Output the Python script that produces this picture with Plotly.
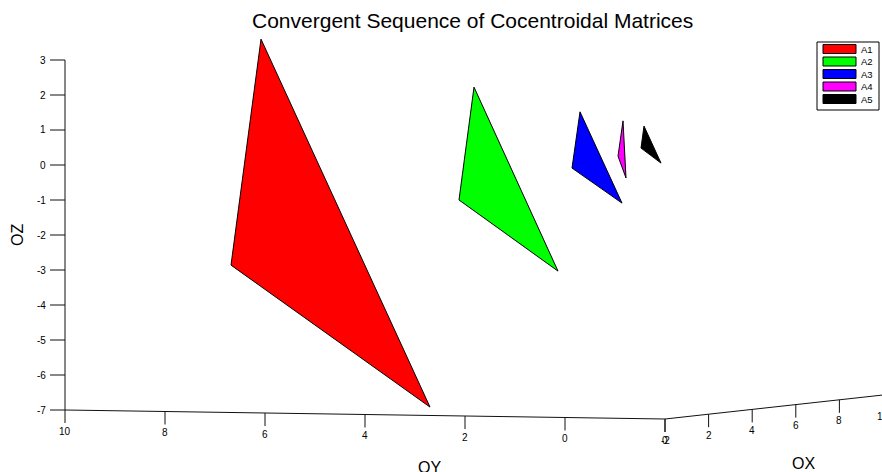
import plotly.graph_objects as go

# ---------------- data (3-D vertices of each matrix triangle) ----------------
MATRICES = ["A1", "A2", "A3", "A4", "A5"]
COLORS = ["#ff0000", "#00ff00", "#0000ff", "#ff00ff", "#000000"]

A1_X = [0, 0, 0]
A1_Y = [6.08, 6.68, 2.70]
A1_Z = [3.68, -2.79, -6.76]

A2_X = [0, 0, 0]
A2_Y = [1.82, 2.12, 0.14]
A2_Z = [2.40, -0.83, -2.82]

A3_X = [0, 0, 0]
A3_Y = [-0.30, -0.14, -1.14]
A3_Z = [1.74, 0.13, -0.85]

A4_X = [0, 0, 0]
A4_Y = [-1.16, -1.06, -1.22]
A4_Z = [1.50, 0.49, -0.13]

A5_X = [0, 0, 0]
A5_Y = [-1.58, -1.52, -1.92]
A5_Z = [1.36, 0.73, 0.31]

X_TICKS = [0, 2, 4, 6, 8, 10]
Y_TICKS = [10, 8, 6, 4, 2, 0, -2]
Z_TICKS = [-7, -6, -5, -4, -3, -2, -1, 0, 1, 2, 3]

TITLE = "Convergent Sequence of Cocentroidal Matrices"

# ---------------- fixed oblique view (projection onto the page) ----------------
W, H = 882, 472
X0, Y0, Z0 = 0, -2, -7          # axis corner
OU, OV = 665.0, 419.0           # page position of the corner
EX = (21.8, -2.4)               # page step per unit of X
EY = (-50.0, -0.75)             # page step per unit of Y
EZ = (0.0, -35.0)               # page step per unit of Z


def proj(x, y, z):
    u = OU + EX[0] * (x - X0) + EY[0] * (y - Y0) + EZ[0] * (z - Z0)
    v = OV + EX[1] * (x - X0) + EY[1] * (y - Y0) + EZ[1] * (z - Z0)
    return u, v


def proj_many(xs, ys, zs):
    pts = [proj(x, y, z) for x, y, z in zip(xs, ys, zs)]
    return [p[0] for p in pts], [p[1] for p in pts]


def px(u):
    return u / W


def py(v):
    return 1 - v / H


FONT = "Arial, Liberation Sans, sans-serif"
AXC = "#111111"
TICKFONT = dict(family=FONT, size=10, color="#000")

fig = go.Figure()

# ---------------- axes ----------------
xmax, ymax, zmax = max(X_TICKS), max(Y_TICKS), max(Z_TICKS)
zu, zv = proj_many([X0, X0], [ymax, ymax], [Z0, zmax])
fig.add_trace(go.Scatter(x=zu, y=zv, mode="lines", line=dict(color=AXC, width=1),
                         hoverinfo="skip", showlegend=False))
yu, yv = proj_many([X0, X0], [ymax, Y0], [Z0, Z0])
fig.add_trace(go.Scatter(x=yu, y=yv, mode="lines", line=dict(color=AXC, width=1),
                         hoverinfo="skip", showlegend=False))
xu, xv = proj_many([X0, xmax], [Y0, Y0], [Z0, Z0])
fig.add_trace(go.Scatter(x=xu, y=xv, mode="lines", line=dict(color=AXC, width=1),
                         hoverinfo="skip", showlegend=False))

annotations = []
tu, tv = [], []
for z in Z_TICKS:
    u, v = proj(X0, ymax, z)
    tu += [u, u - 15, None]
    tv += [v, v, None]
    annotations.append(dict(x=px(u - 17), y=py(v), xref="paper", yref="paper", text=str(z),
                            showarrow=False, xanchor="right", yanchor="middle", font=TICKFONT))
for y in Y_TICKS:
    u, v = proj(X0, y, Z0)
    tu += [u, u, None]
    tv += [v, v + 13, None]
    annotations.append(dict(x=px(u), y=py(v + 21), xref="paper", yref="paper", text=str(y),
                            showarrow=False, xanchor="center", yanchor="middle", font=TICKFONT))
for x in X_TICKS:
    u, v = proj(x, Y0, Z0)
    tu += [u, u, None]
    tv += [v, v + 13, None]
    annotations.append(dict(x=px(u), y=py(v + 21), xref="paper", yref="paper", text=str(x),
                            showarrow=False, xanchor="center", yanchor="middle", font=TICKFONT))
fig.add_trace(go.Scatter(x=tu, y=tv, mode="lines", line=dict(color=AXC, width=1),
                         hoverinfo="skip", showlegend=False))

# ---------------- triangles ----------------
TRIS = [(A1_X, A1_Y, A1_Z), (A2_X, A2_Y, A2_Z), (A3_X, A3_Y, A3_Z),
        (A4_X, A4_Y, A4_Z), (A5_X, A5_Y, A5_Z)]
for name, col, (xs, ys, zs) in zip(MATRICES, COLORS, TRIS):
    us, vs = proj_many(xs + xs[:1], ys + ys[:1], zs + zs[:1])
    fig.add_trace(go.Scatter(x=us, y=vs, mode="lines", fill="toself", fillcolor=col,
                             line=dict(color="#000000", width=1), name=name,
                             showlegend=False, hoverinfo="name"))

# ---------------- axis titles & title ----------------
annotations += [
    dict(x=px(17), y=py(235), xref="paper", yref="paper", text="OZ", textangle=-90,
         showarrow=False, xanchor="center", yanchor="middle",
         font=dict(family=FONT, size=16, color="#000")),
    dict(x=px(429), y=py(467), xref="paper", yref="paper", text="OY", showarrow=False,
         xanchor="center", yanchor="middle", font=dict(family=FONT, size=16, color="#000")),
    dict(x=px(803), y=py(463), xref="paper", yref="paper", text="OX", showarrow=False,
         xanchor="center", yanchor="middle", font=dict(family=FONT, size=16, color="#000")),
    dict(x=px(473), y=py(20), xref="paper", yref="paper", text=TITLE, showarrow=False,
         xanchor="center", yanchor="middle", font=dict(family=FONT, size=21, color="#000")),
]

# ---------------- legend box ----------------
shapes = [dict(type="rect", xref="x", yref="y", x0=817, x1=879, y0=42, y1=110,
               line=dict(color="#000", width=1), fillcolor="#fff", layer="above")]
for i, (name, col) in enumerate(zip(MATRICES, COLORS)):
    cy = 49 + 12.5 * i
    shapes.append(dict(type="rect", xref="x", yref="y", x0=823, x1=856, y0=cy - 4.5, y1=cy + 4.5,
                       line=dict(color="#000", width=1), fillcolor=col, layer="above"))
    annotations.append(dict(x=px(859), y=py(cy), xref="paper", yref="paper", text=name,
                            showarrow=False, xanchor="left", yanchor="middle",
                            font=dict(family=FONT, size=9.5, color="#000")))

fig.update_layout(
    width=W, height=H,
    margin=dict(l=0, r=0, t=0, b=0),
    paper_bgcolor="#ffffff", plot_bgcolor="#ffffff",
    xaxis=dict(range=[0, W], visible=False, fixedrange=True),
    yaxis=dict(range=[H, 0], visible=False, fixedrange=True),
    annotations=annotations, shapes=shapes, showlegend=False,
)

fig.write_html("out.html")
